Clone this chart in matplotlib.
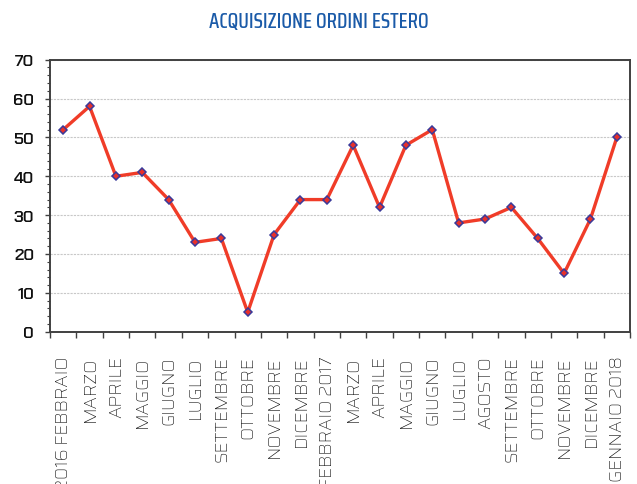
import matplotlib
matplotlib.use("Agg")
import matplotlib.pyplot as plt
from matplotlib.ticker import MultipleLocator, FixedLocator, NullFormatter

categories = ["2016 FEBBRAIO", "MARZO", "APRILE", "MAGGIO", "GIUGNO", "LUGLIO",
              "SETTEMBRE", "OTTOBRE", "NOVEMBRE", "DICEMBRE", "FEBBRAIO 2017",
              "MARZO", "APRILE", "MAGGIO", "GIUGNO", "LUGLIO", "AGOSTO",
              "SETTEMBRE", "OTTOBRE", "NOVEMBRE", "DICEMBRE", "GENNAIO 2018"]
values = [52, 58, 40, 41, 34, 23, 24, 5, 25, 34, 34, 48, 32, 48, 52, 28, 29,
          32, 24, 15, 29, 50]
y_ticks = [0, 10, 20, 30, 40, 50, 60, 70]
title = "ACQUISIZIONE ORDINI ESTERO"

cond = ['Saira Condensed', 'Roboto Condensed', 'DejaVu Sans']
wide = ['Saira', 'Exo 2', 'DejaVu Sans']
ynum = ['Chakra Petch', 'DejaVu Sans']

fig = plt.figure(figsize=(6.37, 4.85), dpi=100)
ax = fig.add_axes([50/637, 1-332.7/485, 580/637, (332.7-60.7)/485])

x = list(range(len(values)))
ax.plot(x, values, color='#f03c28', lw=2.4, zorder=3,
        marker='D', markersize=4.5, markerfacecolor='#e8302a',
        markeredgecolor='#3a3a9a', markeredgewidth=1.1)

ax.set_xlim(-0.5, len(values) - 0.5)
ax.set_ylim(y_ticks[0], y_ticks[-1])
ax.set_yticks(y_ticks)
ax.set_yticklabels([str(v) for v in y_ticks], family=ynum, fontweight='semibold',
                   fontsize=12, color='#111111')
ax.yaxis.set_minor_locator(MultipleLocator(2))
ax.grid(axis='y', which='major', color='#c8c8c8', ls=(0, (2, 1)), lw=0.8)
ax.set_axisbelow(True)

ax.xaxis.set_major_locator(FixedLocator([i - 0.5 for i in range(len(values) + 1)]))
ax.xaxis.set_major_formatter(NullFormatter())
ax.set_xticks(x, minor=True)
ax.set_xticklabels(categories, minor=True, rotation=90, fontsize=13,
                   family=wide, fontweight='light',
                   color='#111111', va='top', ha='center')
ax.tick_params(axis='x', which='minor', length=0, pad=17)
ax.tick_params(axis='x', which='major', length=4, width=1, color='#404040', direction='out')
ax.tick_params(axis='y', which='major', length=3.5, width=1, color='#404040', pad=8)
ax.tick_params(axis='y', which='minor', length=2, width=0.8, color='#404040')

for s in ax.spines.values():
    s.set_color('#404040')
    s.set_linewidth(1.4)

fig.text(0.5, 1 - 22/485, title, ha='center', va='center', fontsize=15,
         color='#1a5aa8', family=cond, fontweight='medium')

fig.savefig("out.png", dpi=100)
